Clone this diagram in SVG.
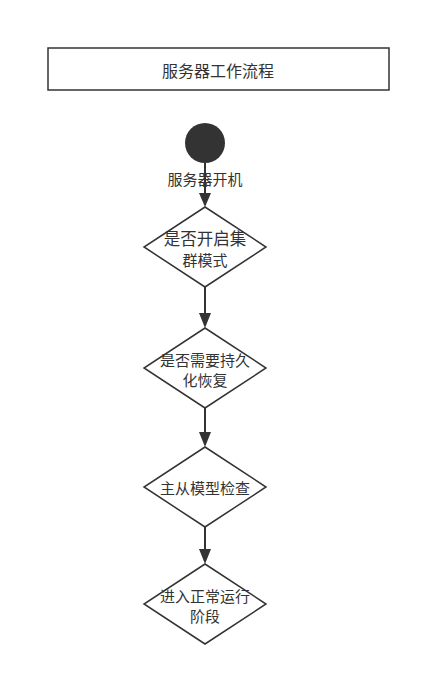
<svg xmlns="http://www.w3.org/2000/svg" width="421" height="676" viewBox="0 0 421 676">
<style>
text{font-family:"Noto Sans CJK SC","Liberation Sans",sans-serif;fill:#333;text-anchor:middle;dominant-baseline:central;font-size:15px}
.d{fill:#fff;stroke:#333;stroke-width:1.5}
.c{stroke:#333;stroke-width:2;fill:none}
</style>
<defs>
<marker id="ah" markerUnits="userSpaceOnUse" markerWidth="12" markerHeight="16" viewBox="0 0 12 16" refX="6" refY="16" orient="auto-start-reverse">
<path d="M0,0 L12,0 L6,16 Z" fill="#333" transform="rotate(0)"/>
</marker>
</defs>
<rect width="421" height="676" fill="#fff"/>
<g id="title">
<rect x="48" y="48" width="341" height="42" fill="#fff" stroke="#333" stroke-width="1.5"/>
<text x="218" y="70" style="font-size:16px">服务器工作流程</text>
</g>
<g id="connectors">
<path class="c" d="M205,163 V193"/>
<path d="M199,193 L211,193 L205,207 Z" fill="#333"/>
<path class="c" d="M205,287 V314"/>
<path d="M199,313 L211,313 L205,328 Z" fill="#333"/>
<path class="c" d="M205,408 V433"/>
<path d="M199,432 L211,432 L205,447 Z" fill="#333"/>
<path class="c" d="M205,527 V550"/>
<path d="M199,549 L211,549 L205,564 Z" fill="#333"/>
</g>
<g id="start">
<circle cx="205" cy="143" r="20" fill="#333"/>
<text x="205" y="178">服务器开机</text>
</g>
<g id="cluster">
<path class="d" d="M205,207 L266,247 L205,287 L144,247 Z"/>
<text x="205" y="238" style="font-size:16.5px">是否开启集</text>
<text x="205" y="259">群模式</text>
</g>
<g id="persist">
<path class="d" d="M205,328 L266,368 L205,408 L144,368 Z"/>
<text x="205" y="359">是否需要持久</text>
<text x="205" y="379">化恢复</text>
</g>
<g id="check">
<path class="d" d="M205,447 L266,487 L205,527 L144,487 Z"/>
<text x="205" y="487">主从模型检查</text>
</g>
<g id="run">
<path class="d" d="M205,564 L266,604 L205,644 L144,604 Z"/>
<text x="205" y="595">进入正常运行</text>
<text x="205" y="615">阶段</text>
</g>
</svg>
